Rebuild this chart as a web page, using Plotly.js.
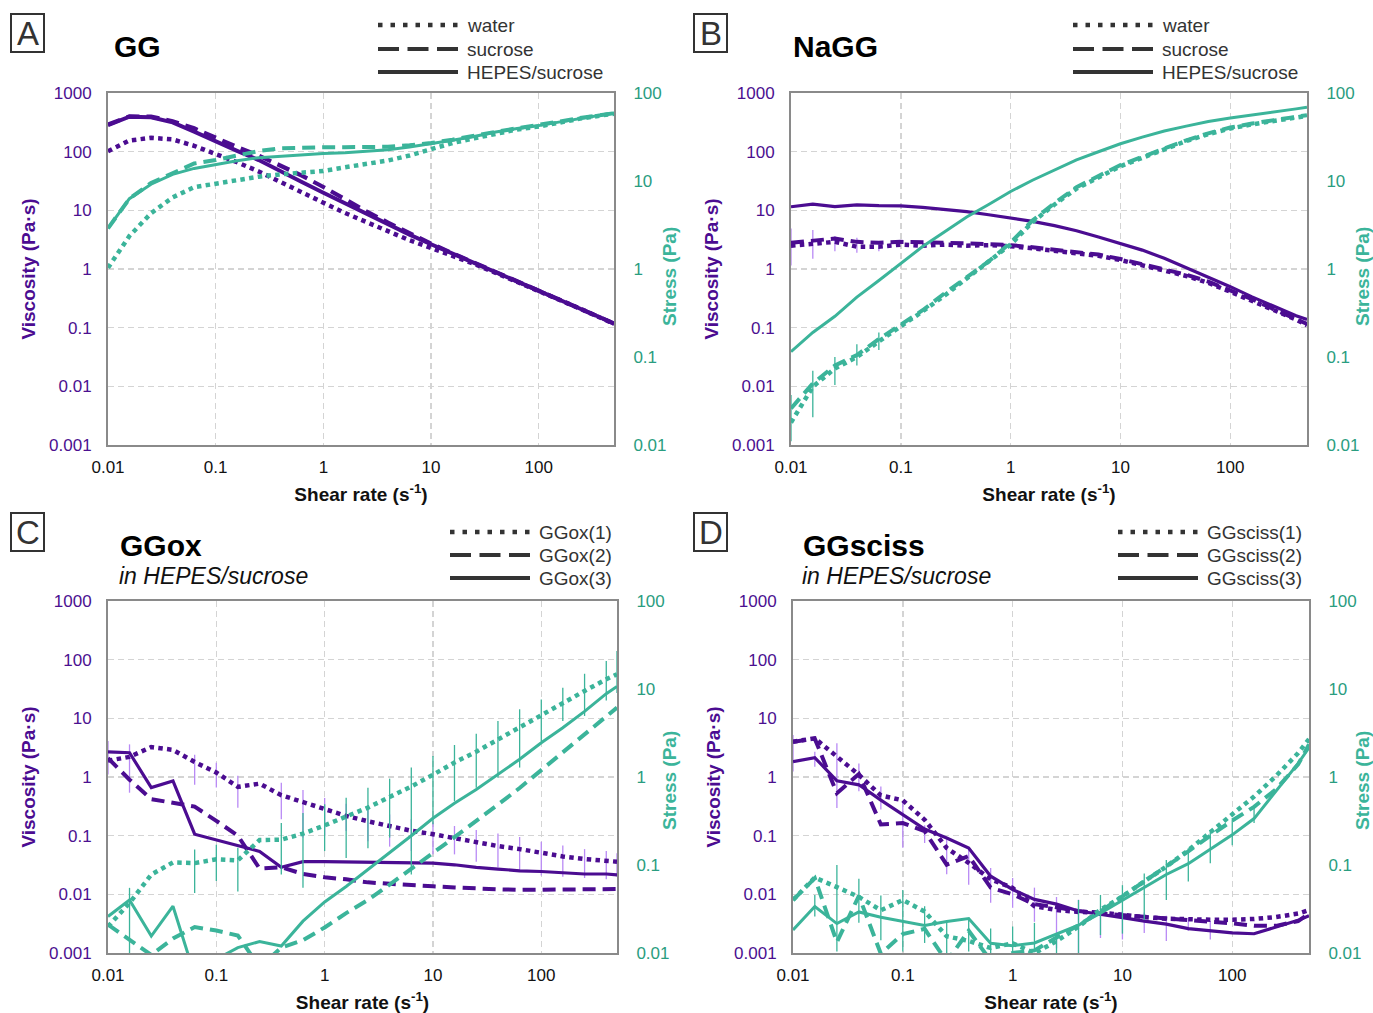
<!DOCTYPE html>
<html>
<head>
<meta charset="utf-8">
<script src="https://cdn.plot.ly/plotly-3.0.1.min.js"></script>
<style>html,body{margin:0;padding:0;background:#fff;}#chart{width:1373px;height:1013px;}</style>
</head>
<body>
<div id="chart"></div>
<script>
// ---------- data ----------
const shearRate = [0.01, 0.0158, 0.0251, 0.0398, 0.0631, 0.1, 0.158, 0.251, 0.398, 0.631, 1, 1.58, 2.51, 3.98, 6.31, 10, 15.8, 25.1, 39.8, 63.1, 100, 158, 251, 398, 500];

const xTickVals = [0.01, 0.1, 1, 10, 100];
const xTickText = ['0.01', '0.1', '1', '10', '100'];
const viscTickVals = [0.001, 0.01, 0.1, 1, 10, 100, 1000];
const viscTickText = ['0.001', '0.01', '0.1', '1', '10', '100', '1000'];
const stressTickVals = [0.01, 0.1, 1, 10, 100];
const stressTickText = ['0.01', '0.1', '1', '10', '100'];

// Panel A: GG
const A_legend = ['water', 'sucrose', 'HEPES/sucrose'];
const A_viscWater   = [102, 155, 172, 162, 126, 93, 66, 46, 31, 20.6, 13.5, 9.05, 6.3, 4.3, 3.09, 2.28, 1.71, 1.22, 0.86, 0.61, 0.416, 0.294, 0.205, 0.141, 0.116];
const A_viscSucrose = [290, 400, 395, 330, 250, 170, 120, 86, 58, 39, 25, 15.2, 9.6, 6.2, 4.05, 2.7, 1.86, 1.28, 0.9, 0.63, 0.43, 0.3, 0.208, 0.143, 0.118];
const A_viscHepes   = [284, 394, 385, 316, 219, 148, 103, 72, 46, 30.5, 20, 13.3, 8.7, 5.7, 3.85, 2.64, 1.84, 1.27, 0.9, 0.63, 0.426, 0.297, 0.207, 0.142, 0.117];
const A_stressWater   = [1.03, 2.37, 4.3, 6.5, 8.5, 9.4, 10.4, 11.2, 11.9, 12.4, 13.0, 14.3, 15.8, 17.1, 19.5, 22.8, 27, 30.5, 34.3, 38.5, 41.6, 46.5, 51.5, 56, 58];
const A_stressSucrose = [2.9, 6.3, 9.5, 12.4, 15.8, 17.3, 19.7, 21.9, 23.5, 24, 24.2, 24.2, 24.2, 24.5, 25.5, 27, 29.5, 32.3, 36.2, 39.8, 43, 47.4, 52.3, 56.8, 59];
const A_stressHepes   = [2.9, 6.3, 9.2, 11.9, 13.9, 15.5, 17, 18.4, 19.2, 20, 20.6, 21, 21.8, 22.7, 24.3, 26.4, 29, 32, 36, 39.5, 42.6, 47, 52, 56.5, 58.7];

// Panel B: NaGG
const B_legend = ['water', 'sucrose', 'HEPES/sucrose'];
const B_viscWater   = [2.5, 2.7, 2.9, 2.4, 2.4, 2.6, 2.5, 2.6, 2.5, 2.55, 2.45, 2.25, 2.05, 1.9, 1.68, 1.42, 1.18, 0.94, 0.76, 0.58, 0.41, 0.29, 0.198, 0.138, 0.11];
const B_viscSucrose = [2.8, 3.0, 3.3, 2.9, 2.8, 2.9, 2.8, 2.8, 2.75, 2.7, 2.55, 2.35, 2.15, 1.98, 1.76, 1.48, 1.22, 0.98, 0.8, 0.61, 0.43, 0.305, 0.205, 0.143, 0.116];
const B_viscHepes   = [11.5, 12.8, 11.6, 12.4, 12.0, 11.9, 11.2, 10.4, 9.5, 8.4, 7.5, 6.5, 5.5, 4.5, 3.5, 2.75, 2.1, 1.52, 1.06, 0.73, 0.5, 0.335, 0.228, 0.16, 0.138];
const B_stressWater   = [0.018, 0.046, 0.074, 0.1, 0.15, 0.22, 0.33, 0.5, 0.78, 1.18, 1.9, 3.4, 5.4, 8.2, 11, 14.7, 18.3, 22.8, 28.5, 34, 39.5, 44, 48.5, 52.5, 55];
const B_stressSucrose = [0.026, 0.05, 0.08, 0.105, 0.16, 0.23, 0.34, 0.53, 0.8, 1.22, 2.0, 3.55, 5.6, 8.5, 11.4, 15.2, 18.8, 23.3, 29, 34.8, 40.5, 45, 49.5, 53.5, 56];
const B_stressHepes   = [0.115, 0.19, 0.29, 0.48, 0.74, 1.17, 1.8, 2.65, 3.9, 5.4, 7.6, 10.2, 13.4, 17.4, 21.5, 26.5, 31.5, 37, 42, 47.5, 52, 56, 61, 66, 69];
const B_viscErrHi   = [4.9, 4.6, 3.6, 3.4, 3.0, null, null, null, null, null, null, null, null, null, null, null, null, null, null, null, null, null, null, null, null];
const B_viscErrLo   = [1.15, 1.5, 2.0, 1.9, 2.0, null, null, null, null, null, null, null, null, null, null, null, null, null, null, null, null, null, null, null, null];
const B_stressErrHi = [0.037, 0.07, 0.1, 0.14, 0.19, null, null, null, null, null, null, null, null, null, null, null, null, null, null, null, null, null, null, null, null];
const B_stressErrLo = [0.011, 0.0207, 0.048, 0.08, 0.12, null, null, null, null, null, null, null, null, null, null, null, null, null, null, null, null, null, null, null, null];

// Panel C: GGox in HEPES/sucrose
const C_legend = ['GGox(1)', 'GGox(2)', 'GGox(3)'];
const C_visc1 = [1.9, 2.2, 3.24, 2.9, 1.8, 1.19, 0.68, 0.77, 0.49, 0.376, 0.28, 0.217, 0.176, 0.145, 0.121, 0.106, 0.0895, 0.0765, 0.0664, 0.059, 0.0505, 0.0443, 0.04, 0.0363, 0.036];
const C_visc2 = [2.1, 0.9, 0.42, 0.366, 0.313, 0.179, 0.1, 0.0275, 0.029, 0.0222, 0.0195, 0.018, 0.016, 0.0151, 0.0142, 0.0137, 0.0131, 0.0125, 0.0122, 0.0119, 0.012, 0.012, 0.0122, 0.0123, 0.0123];
const C_visc3 = [2.69, 2.59, 0.66, 0.855, 0.106, 0.084, 0.067, 0.054, 0.029, 0.036, 0.036, 0.0355, 0.0355, 0.0345, 0.034, 0.034, 0.0319, 0.0288, 0.027, 0.0252, 0.0245, 0.023, 0.0222, 0.0222, 0.0214];
const C_stress1 = [0.02, 0.037, 0.078, 0.107, 0.105, 0.116, 0.113, 0.192, 0.194, 0.227, 0.282, 0.355, 0.449, 0.593, 0.78, 1.06, 1.46, 1.94, 2.68, 3.67, 4.97, 6.92, 9.5, 12.9, 14.7];
const C_stress2 = [0.021, 0.0142, 0.0095, 0.0146, 0.0197, 0.018, 0.0158, 0.0069, 0.0115, 0.014, 0.0195, 0.0284, 0.04, 0.06, 0.0896, 0.137, 0.207, 0.314, 0.486, 0.75, 1.2, 1.9, 3.06, 4.9, 6.15];
const C_stress3 = [0.026, 0.04, 0.0156, 0.034, 0.0056, 0.0085, 0.0115, 0.0135, 0.012, 0.023, 0.038, 0.057, 0.089, 0.137, 0.215, 0.34, 0.504, 0.723, 1.07, 1.59, 2.45, 3.63, 5.57, 8.84, 10.7];
const C_viscErrHi = [4.1, 3.6, null, null, 2.4, 1.75, 1.05, null, 0.8, 0.6, 0.44, 0.35, 0.28, 0.23, 0.19, 0.17, 0.146, 0.125, 0.109, 0.095, 0.079, 0.068, 0.059, 0.055, 0.05];
const C_viscErrLo = [1.1, 0.54, null, null, 0.74, 0.66, 0.3, null, 0.19, 0.093, 0.1, 0.12, 0.08, 0.065, 0.055, 0.048, 0.048, 0.036, 0.029, 0.026, 0.021, 0.02, 0.019, 0.018, 0.02];
const C_stressErrHi = [null, 0.055, null, null, 0.15, 0.17, 0.157, null, 0.30, 0.39, 0.49, 0.58, 0.757, 0.957, 1.28, 1.73, 2.31, 3.1, 4.33, 5.88, 7.6, 10.3, 14.9, 20.8, 27];
const C_stressErrLo = [null, 0.0096, null, null, 0.048, 0.066, 0.05, null, 0.078, 0.055, 0.144, 0.12, 0.155, 0.205, 0.078, 0.29, 0.53, 0.757, 0.98, 1.28, 2.56, 4.33, 4.94, 7.4, 9.0];

// Panel D: GGsciss in HEPES/sucrose
const D_legend = ['GGsciss(1)', 'GGsciss(2)', 'GGsciss(3)'];
const D_visc1 = [4.0, 4.57, 2.23, 1.09, 0.485, 0.40, 0.187, 0.0617, 0.0343, 0.018, 0.0129, 0.0063, 0.0054, 0.005, 0.0049, 0.0044, 0.0041, 0.00384, 0.0037, 0.0037, 0.0037, 0.0038, 0.0041, 0.0047, 0.0054];
const D_visc2 = [4.0, 4.5, 0.53, 1.12, 0.155, 0.164, 0.119, 0.032, 0.045, 0.013, 0.01, 0.0068, 0.006, 0.0052, 0.0047, 0.0044, 0.004, 0.0038, 0.0036, 0.0034, 0.0032, 0.0029, 0.0029, 0.0035, 0.0047];
const D_visc3 = [1.83, 2.14, 0.86, 0.736, 0.404, 0.227, 0.13, 0.091, 0.0617, 0.0204, 0.0121, 0.0082, 0.0068, 0.0052, 0.0045, 0.004, 0.0035, 0.0031, 0.0026, 0.00237, 0.0022, 0.00213, 0.00277, 0.0036, 0.0043];
const D_stress1 = [0.04, 0.072, 0.056, 0.0434, 0.0306, 0.04, 0.0296, 0.0155, 0.0137, 0.0114, 0.0129, 0.00996, 0.0136, 0.0199, 0.031, 0.044, 0.065, 0.096, 0.147, 0.233, 0.37, 0.6, 1.03, 1.87, 2.7];
const D_stress2 = [0.04, 0.071, 0.0133, 0.0446, 0.0098, 0.0164, 0.0188, 0.008, 0.0179, 0.0082, 0.01, 0.0107, 0.015, 0.0207, 0.0297, 0.044, 0.063, 0.095, 0.143, 0.215, 0.32, 0.458, 0.728, 1.39, 2.35];
const D_stress3 = [0.0183, 0.0338, 0.0216, 0.0293, 0.0255, 0.0227, 0.0205, 0.0228, 0.0246, 0.0129, 0.0121, 0.013, 0.0163, 0.0207, 0.0284, 0.04, 0.0553, 0.078, 0.1035, 0.15, 0.22, 0.337, 0.695, 1.43, 2.15];
const D_viscErrHi = [5.2, 2.7, 3.76, 1.7, 0.69, 0.38, 0.15, 0.05, 0.047, 0.028, 0.019, 0.013, 0.009, 0.0081, 0.0052, 0.0052, 0.0049, 0.0043, 0.004, 0.0035, null, null, null, null, null];
const D_viscErrLo = [1.24, 1.5, 0.296, 0.57, 0.28, 0.062, 0.075, 0.022, 0.0146, 0.0072, 0.0059, 0.0034, 0.0012, 0.001, 0.0018, 0.0017, 0.0022, 0.0016, 0.0024, 0.0017, null, null, null, null, null];
const D_stressErrHi = [null, 0.0456, 0.1, 0.07, 0.045, 0.052, 0.034, 0.022, 0.024, 0.019, 0.02, 0.022, 0.0153, 0.04, 0.0457, 0.059, 0.08, 0.114, 0.155, 0.25, 0.325, 0.48, null, null, null];
const D_stressErrLo = [null, 0.026, 0.0104, 0.022, 0.014, 0.0104, 0.013, 0.01, 0.0104, 0.0099, 0.0099, 0.0104, 0.0099, 0.0099, 0.016, 0.0166, 0.0237, 0.04, 0.065, 0.105, 0.168, 0.3, null, null, null];

// ---------- styling ----------
const W = 1373, H = 1013;
const PURPLE = '#4b0c91', TEAL = '#3bb49a';
const PURPLE_ERR = '#b98af5', TEAL_ERR = '#3bb49a';
const PURPLE_TICK = '#4b1090', TEAL_TICK = '#2a9d80';
const FONT = 'Liberation Sans, Arial, Helvetica, sans-serif';
const DOT = '4.5px,4.3px', DASH = '13px,7px';
const styles = [DOT, DASH, 'solid'];

const px = v => v / W;
const py = v => 1 - v / H;

const panels = [
  {x:'x',  y:'y',  y2:'y2', xd:[108,614], yd:[93,445], stressLbl:[669, 277],
   visc:[A_viscWater, A_viscSucrose, A_viscHepes], stress:[A_stressWater, A_stressSucrose, A_stressHepes],
   vw:[4.5,4.2,4], sw:[4.5,4,3]},
  {x:'x2', y:'y3', y2:'y4', xd:[791,1307], yd:[93,445], stressLbl:[1362, 277],
   visc:[B_viscWater, B_viscSucrose, B_viscHepes], stress:[B_stressWater, B_stressSucrose, B_stressHepes],
   vw:[4.5,4,3.2], sw:[4.5,4,3], verr:[0, B_viscErrHi, B_viscErrLo], serr:[0, B_stressErrHi, B_stressErrLo]},
  {x:'x3', y:'y5', y2:'y6', xd:[108,617], yd:[601,953], stressLbl:[669, 781],
   visc:[C_visc1, C_visc2, C_visc3], stress:[C_stress1, C_stress2, C_stress3],
   vw:[4.5,4,3.2], sw:[4.5,4,3], verr:[0, C_viscErrHi, C_viscErrLo], serr:[0, C_stressErrHi, C_stressErrLo]},
  {x:'x4', y:'y7', y2:'y8', xd:[793,1309], yd:[601,953], stressLbl:[1362, 781],
   visc:[D_visc1, D_visc2, D_visc3], stress:[D_stress1, D_stress2, D_stress3],
   vw:[4.5,4,3.2], sw:[4.5,4,3], verr:[2, D_viscErrHi, D_viscErrLo], serr:[2, D_stressErrHi, D_stressErrLo]}
];

function errTrace(p, yaxis, series, hi, lo, color) {
  const plus = series.map((v, i) => hi[i] == null ? 0 : Math.max(hi[i] - v, 0));
  const minus = series.map((v, i) => lo[i] == null ? 0 : Math.max(v - lo[i], 0));
  return {x: shearRate, y: series, xaxis: p.x, yaxis: yaxis, type: 'scatter', mode: 'markers',
    marker: {size: 1, opacity: 0}, hoverinfo: 'skip',
    error_y: {type: 'data', symmetric: false, array: plus, arrayminus: minus, color: color, thickness: 1.3, width: 0}};
}

const traces = [];
panels.forEach(p => {
  if (p.verr) traces.push(errTrace(p, p.y, p.visc[p.verr[0]], p.verr[1], p.verr[2], PURPLE_ERR));
  if (p.serr) traces.push(errTrace(p, p.y2, p.stress[p.serr[0]], p.serr[1], p.serr[2], TEAL_ERR));
  for (let i = 0; i < 3; i++) {
    traces.push({x: shearRate, y: p.stress[i], xaxis: p.x, yaxis: p.y2, type: 'scatter', mode: 'lines',
      line: {color: TEAL, width: p.sw[i], dash: styles[i]}, hoverinfo: 'skip'});
  }
  for (let i = 0; i < 3; i++) {
    traces.push({x: shearRate, y: p.visc[i], xaxis: p.x, yaxis: p.y, type: 'scatter', mode: 'lines',
      line: {color: PURPLE, width: p.vw[i], dash: styles[i]}, hoverinfo: 'skip'});
  }
});

const layout = {
  width: W, height: H, margin: {l: 0, r: 0, t: 0, b: 0},
  paper_bgcolor: '#fff', plot_bgcolor: '#fff', showlegend: false,
  font: {family: FONT, size: 17, color: '#222'},
  shapes: [], annotations: []
};

const gridStyle = {showgrid: true, gridcolor: '#d4d4d4', gridwidth: 1.5, griddash: '6px,4px'};

panels.forEach((p, idx) => {
  const xk = 'xaxis' + (idx === 0 ? '' : (idx + 1));
  const yNum = idx * 2 + 1;
  const yk = 'yaxis' + (yNum === 1 ? '' : yNum);
  const y2k = 'yaxis' + (yNum + 1);
  layout[xk] = Object.assign({
    type: 'log', range: [-2, Math.log10(500)], domain: [px(p.xd[0]), px(p.xd[1])], anchor: p.y,
    tickvals: xTickVals, ticktext: xTickText, ticks: '', ticklabelstandoff: 6,
    tickfont: {size: 17, color: '#111', family: FONT},
    showline: true, mirror: true, linecolor: '#8a8a8a', linewidth: 2, zeroline: false,
    title: {text: 'Shear rate (s<sup>-1</sup>)', font: {size: 19, color: '#111', family: FONT, weight: 'bold'}, standoff: 11}
  }, gridStyle);
  layout[yk] = Object.assign({
    type: 'log', range: [-3, 3], domain: [py(p.yd[1]), py(p.yd[0])], anchor: p.x,
    tickvals: viscTickVals, ticktext: viscTickText, ticks: '', ticklabelstandoff: 11,
    tickfont: {size: 17, color: PURPLE_TICK, family: FONT},
    showline: true, mirror: true, linecolor: '#8a8a8a', linewidth: 2, zeroline: false,
    title: {text: 'Viscosity (Pa·s)', font: {size: 19, color: PURPLE, family: FONT, weight: 'bold'}, standoff: 8}
  }, gridStyle);
  layout[y2k] = {
    type: 'log', range: [-2, 2], overlaying: p.y, side: 'right', anchor: p.x,
    tickvals: stressTickVals, ticktext: stressTickText, ticks: '', ticklabelstandoff: 14,
    tickfont: {size: 17, color: TEAL_TICK, family: FONT}, showgrid: false, zeroline: false,
    showline: true, linecolor: '#8a8a8a', linewidth: 2
  };
  // stress axis title
  layout.annotations.push({text: '<b>Stress (Pa)</b>', xref: 'paper', yref: 'paper',
    x: px(p.stressLbl[0]), y: py(p.stressLbl[1]), xanchor: 'center', yanchor: 'middle', textangle: -90,
    showarrow: false, font: {size: 19, color: TEAL, family: FONT}});
});

// panel letters in boxes
const letters = [['A', 11, 14], ['B', 694, 14], ['C', 11, 513], ['D', 694, 513]];
letters.forEach(([t, x0, y0]) => {
  layout.shapes.push({type: 'rect', xref: 'paper', yref: 'paper', x0: px(x0), x1: px(x0 + 33), y0: py(y0), y1: py(y0 + 38),
    line: {color: '#333', width: 2}, fillcolor: 'rgba(0,0,0,0)'});
  layout.annotations.push({text: t, xref: 'paper', yref: 'paper', x: px(x0 + 16.5), y: py(y0 + 19), xanchor: 'center', yanchor: 'middle',
    showarrow: false, font: {size: 33, color: '#333', family: FONT}});
});

// panel titles
const titles = [['GG', 112, 47], ['NaGG', 791, 47], ['GGox', 118, 545], ['GGsciss', 801, 545]];
titles.forEach(([t, x, y]) => layout.annotations.push({text: '<b>' + t + '</b>', xref: 'paper', yref: 'paper', x: px(x), y: py(y),
  xanchor: 'left', yanchor: 'middle', showarrow: false, font: {size: 30, color: '#000', family: FONT}}));
[[117, 576], [800, 576]].forEach(([x, y]) => layout.annotations.push({text: '<i>in HEPES/sucrose</i>', xref: 'paper', yref: 'paper',
  x: px(x), y: py(y), xanchor: 'left', yanchor: 'middle', showarrow: false, font: {size: 23, color: '#111', family: FONT}}));

// legends (line samples + labels)
const legends = [
  {labels: A_legend, x0: 378, x1: 458, tx: 465, ys: [25, 49, 72]},
  {labels: B_legend, x0: 1073, x1: 1153, tx: 1160, ys: [25, 49, 72]},
  {labels: C_legend, x0: 450, x1: 530, tx: 537, ys: [532, 555, 578]},
  {labels: D_legend, x0: 1118, x1: 1198, tx: 1205, ys: [532, 555, 578]}
];
const legDash = ['4.5px,8px', '21px,8.5px', 'solid'];
legends.forEach(L => {
  L.labels.forEach((lab, i) => {
    layout.shapes.push({type: 'line', xref: 'paper', yref: 'paper', x0: px(L.x0), x1: px(L.x1), y0: py(L.ys[i]), y1: py(L.ys[i]),
      line: {color: '#333', width: i === 0 ? 4.5 : 4, dash: legDash[i]}});
    layout.annotations.push({text: lab, xref: 'paper', yref: 'paper', x: px(L.tx), y: py(L.ys[i]), xanchor: 'left', yanchor: 'middle',
      showarrow: false, font: {size: 19, color: '#333', family: FONT}});
  });
});

Plotly.newPlot('chart', traces, layout, {staticPlot: true, displayModeBar: false});
</script>
</body>
</html>
